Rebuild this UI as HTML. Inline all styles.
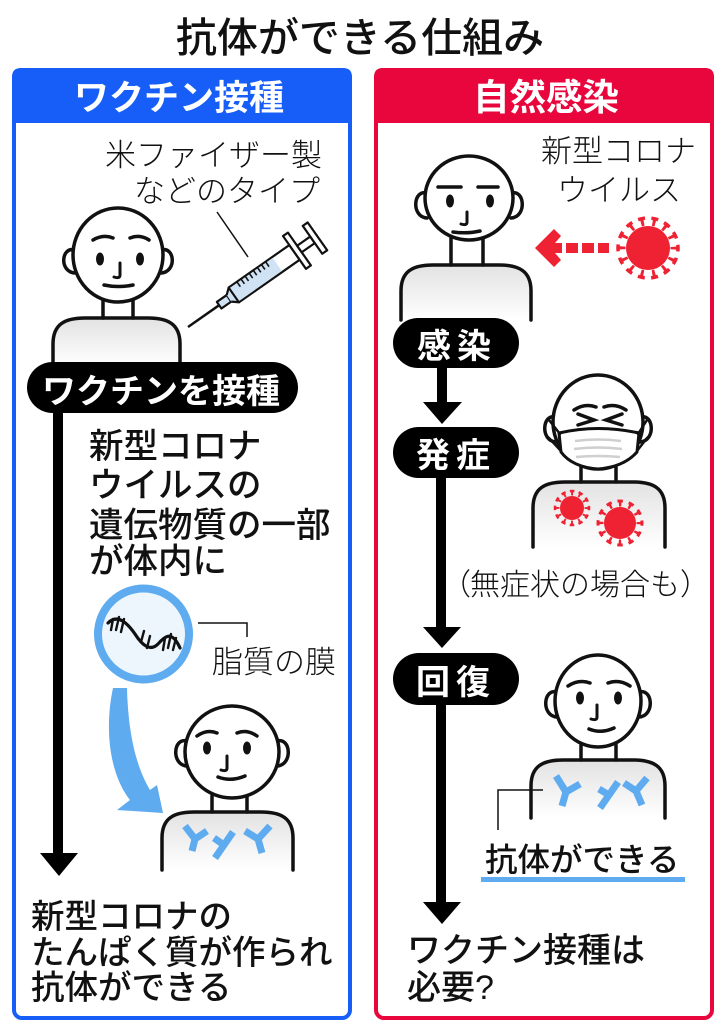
<!DOCTYPE html>
<html><head><meta charset="utf-8">
<style>
html,body{margin:0;padding:0;background:#fff;}
svg{display:block;}
text{font-family:"Liberation Sans","Noto Sans CJK JP",sans-serif;}
.th{font-weight:300;fill:#111;}
.bd{font-weight:700;fill:#fff;}
.md{font-weight:500;fill:#111;}
</style></head>
<body>
<svg width="726" height="1024" viewBox="0 0 726 1024" xmlns="http://www.w3.org/2000/svg">
<defs>
<linearGradient id="bg" x1="0" y1="0" x2="0" y2="1">
<stop offset="0" stop-color="#e2e2e2"/><stop offset="1" stop-color="#ffffff"/>
</linearGradient>
</defs>

<!-- Title -->
<text x="360" y="52" font-size="41" text-anchor="middle" class="md">抗体ができる仕組み</text>

<!-- Left panel -->
<rect x="14" y="70" width="336" height="948" rx="8" fill="none" stroke="#165ef7" stroke-width="4"/>
<path d="M12,123 L12,77 Q12,68 21,68 L343,68 Q352,68 352,77 L352,123 Z" fill="#165ef7"/>
<text x="179" y="110" font-size="35" text-anchor="middle" class="bd">ワクチン接種</text>

<!-- Right panel -->
<rect x="376" y="70" width="336" height="948" rx="8" fill="none" stroke="#e8063c" stroke-width="4"/>
<path d="M374,123 L374,77 Q374,68 383,68 L705,68 Q714,68 714,77 L714,123 Z" fill="#e8063c"/>
<text x="546" y="110" font-size="36.5" text-anchor="middle" class="bd">自然感染</text>

<!-- ===== LEFT PANEL CONTENT ===== -->
<text x="105" y="166" font-size="31" class="th">米ファイザー製</text>
<text x="134" y="202" font-size="31" class="th">などのタイプ</text>
<line x1="217" y1="212" x2="248" y2="257" stroke="#111" stroke-width="1.5"/>

<!-- Syringe -->
<g transform="translate(188,327) rotate(-35)" stroke="#111" stroke-width="2.2" stroke-linejoin="round">
  <line x1="0" y1="0" x2="40" y2="0" stroke-width="2.5"/>
  <rect x="38" y="-4" width="12" height="8" fill="#cfe3f5"/>
  <path d="M50,-4 L56,-9 L56,9 L50,4" fill="#cfe3f5"/>
  <rect x="56" y="-9" width="74" height="18" fill="#fff"/>
  <rect x="57" y="-8" width="52" height="16" fill="#cfe3f5" stroke="none"/>
  <g stroke-width="1.6">
    <line x1="66" y1="-9" x2="66" y2="-3"/><line x1="71" y1="-9" x2="71" y2="-3"/>
    <line x1="76" y1="-9" x2="76" y2="-3"/><line x1="81" y1="-9" x2="81" y2="-3"/>
    <line x1="86" y1="-9" x2="86" y2="-3"/><line x1="91" y1="-9" x2="91" y2="-3"/>
    <line x1="96" y1="-9" x2="96" y2="-3"/><line x1="101" y1="-9" x2="101" y2="-3"/>
  </g>
  <rect x="130" y="-20" width="6" height="40" fill="#fff"/>
  <rect x="136" y="-4" width="16" height="8" fill="#fff"/>
  <rect x="152" y="-17" width="6" height="34" fill="#fff"/>
</g>

<!-- Person 1 (left top) -->
<g stroke="#111" stroke-width="3.5" fill="none" stroke-linecap="round">
  <path d="M53,366 L53,344 C53,324 65,318 85,318 L148,318 C168,318 180,324 180,344 L180,366" fill="url(#bg)"/>
  <line x1="103" y1="300" x2="103" y2="318"/><line x1="133" y1="300" x2="133" y2="318"/>
  <path d="M75,250 C61,246 59,272 75,273"/>
  <path d="M161,250 C175,246 177,272 161,273"/>
  <ellipse cx="118" cy="255" rx="45" ry="47" fill="#fff"/>
  <path d="M93,240 Q103,234 113,238"/>
  <path d="M130,238 Q140,234 149,240"/>
  <path d="M120,263 L120,275 Q120,279 114,277" stroke-width="3"/>
  <path d="M104,285 Q118,288 133,285"/>
</g>
<ellipse cx="100" cy="259" rx="4" ry="6.5" fill="#111"/>
<ellipse cx="140" cy="259" rx="4" ry="6.5" fill="#111"/>

<!-- Pill ワクチンを接種 -->
<rect x="27" y="362" width="271" height="51" rx="25.5" fill="#000"/>
<text x="42" y="403" font-size="34" class="bd">ワクチンを接種</text>

<!-- Left long arrow -->
<rect x="53" y="410" width="10" height="445" fill="#000"/>
<polygon points="40,853 78,853 59,876" fill="#000"/>

<!-- Left body text -->
<text x="89" y="458" font-size="34.5" class="md">新型コロナ</text>
<text x="89" y="497" font-size="34.5" class="md">ウイルスの</text>
<text x="89" y="537" font-size="34.5" class="md">遺伝物質の一部</text>
<text x="89" y="573" font-size="34.5" class="md">が体内に</text>

<!-- Lipid circle -->
<circle cx="143.5" cy="634" r="45.5" fill="#eef6fd" stroke="#5eabf0" stroke-width="8"/>
<g stroke="#111" fill="none" stroke-linecap="round">
  <path d="M108,623 C118,613 128,624 135,634 C142,645 150,652 158,644 C165,636 172,630 180,648" stroke-width="3.2"/>
  <g stroke-width="2.4">
    <line x1="113" y1="619" x2="111" y2="630"/><line x1="119" y1="617" x2="116" y2="630"/>
    <line x1="124" y1="619" x2="121" y2="632"/><line x1="141" y1="642" x2="144" y2="631"/>
    <line x1="147" y1="648" x2="150" y2="636"/><line x1="165" y1="638" x2="163" y2="650"/>
    <line x1="171" y1="634" x2="168" y2="648"/><line x1="176" y1="638" x2="173" y2="650"/>
  </g>
</g>
<path d="M198,623 L247,623 L247,637" fill="none" stroke="#111" stroke-width="1.5"/>
<text x="212" y="673" font-size="31" class="th">脂質の膜</text>

<!-- Blue curved arrow -->
<path d="M113,688 L127,688 C128,730 135,765 150,790 L157,785 L163,813 L117,810 L130,800 C110,775 104,730 113,688 Z" fill="#5eabf0"/>

<!-- Person 2 (left bottom) -->
<g stroke="#111" stroke-width="3.5" fill="none" stroke-linecap="round">
  <path d="M162,870 L162,838 C162,818 174,812 194,812 L261,812 C281,812 293,818 293,838 L293,870" fill="url(#bg)"/>
  <line x1="212" y1="796" x2="212" y2="812"/><line x1="247" y1="796" x2="247" y2="812"/>
  <path d="M187,741 C173,737 171,765 187,766"/>
  <path d="M277,741 C291,737 293,765 277,766"/>
  <ellipse cx="232" cy="752" rx="47" ry="46" fill="#fff"/>
  <path d="M197,736 Q207,729 217,733"/>
  <path d="M237,733 Q247,729 257,736"/>
  <path d="M227,756 L227,768 Q227,772 221,770" stroke-width="3"/>
  <path d="M218,777 Q231,782 245,776"/>
</g>
<ellipse cx="207" cy="748" rx="4" ry="6.5" fill="#111"/>
<ellipse cx="247" cy="748" rx="4" ry="6.5" fill="#111"/>
<g stroke="#5eabf0" stroke-width="7" fill="none" stroke-linejoin="round">
  <path d="M185,826 L195,839 L207,831 M195,839 L192,851"/>
  <path d="M215,858 L233,832 M224,845 L214,838"/>
  <path d="M245,831 L258,839 L270,826 M258,839 L262,853"/>
</g>

<!-- Left bottom text -->
<text x="31" y="928" font-size="33.5" class="md">新型コロナの</text>
<text x="31" y="964" font-size="33.5" class="md">たんぱく質が作られ</text>
<text x="31" y="999" font-size="33.5" class="md">抗体ができる</text>

<!-- ===== RIGHT PANEL CONTENT ===== -->
<text x="541" y="162" font-size="31" class="th">新型コロナ</text>
<text x="557" y="201" font-size="31" class="th">ウイルス</text>

<!-- Person R1 -->
<g stroke="#111" stroke-width="3.5" fill="none" stroke-linecap="round">
  <path d="M401,320 L401,291 C401,271 413,265 433,265 L499,265 C519,265 531,271 531,291 L531,320" fill="url(#bg)"/>
  <line x1="451" y1="238" x2="451" y2="265"/><line x1="483" y1="238" x2="483" y2="265"/>
  <path d="M427,193 C413,189 411,217 427,218"/>
  <path d="M511,193 C525,189 527,217 511,218"/>
  <ellipse cx="469" cy="198" rx="44" ry="42" fill="#fff"/>
  <line x1="438" y1="187" x2="461" y2="187"/>
  <line x1="478" y1="187" x2="498" y2="187"/>
  <path d="M467,212 L467,222 Q467,226 461,224" stroke-width="3"/>
  <path d="M453,232 Q467,234 480,231"/>
</g>
<ellipse cx="450" cy="201" rx="4" ry="6.5" fill="#111"/>
<ellipse cx="490" cy="201" rx="4" ry="6.5" fill="#111"/>

<!-- Red dashed arrow -->
<polygon points="535,248 554,229 561,236 555,243 562,243 562,253 555,253 561,260 554,267" fill="#ee2233"/>
<rect x="566" y="243" width="12" height="10" fill="#ee2233"/>
<rect x="582" y="243" width="12" height="10" fill="#ee2233"/>
<rect x="598" y="243" width="11" height="10" fill="#ee2233"/>

<!-- Big virus -->
<circle cx="648" cy="248" r="22" fill="#ee2233"/>
<circle cx="648" cy="248" r="26" fill="none" stroke="#ee2233" stroke-width="7" stroke-dasharray="3 8.67" stroke-dashoffset="1.5"/>
<circle cx="648" cy="248" r="30" fill="none" stroke="#ee2233" stroke-width="3.5" stroke-dasharray="7 6.46" stroke-dashoffset="3.5"/>

<!-- Pills + arrows -->
<rect x="393" y="318" width="126" height="50" rx="25" fill="#000"/>
<text x="417" y="358" font-size="34" class="bd">感</text>
<text x="457" y="358" font-size="34" class="bd">染</text>
<rect x="437" y="366" width="10" height="38" fill="#000"/>
<polygon points="423,402 462,402 442,424" fill="#000"/>

<rect x="393" y="427" width="126" height="51" rx="25.5" fill="#000"/>
<text x="416" y="467" font-size="34" class="bd">発</text>
<text x="456" y="467" font-size="34" class="bd">症</text>
<rect x="436" y="476" width="10" height="153" fill="#000"/>
<polygon points="423,627 461,627 442,648" fill="#000"/>

<rect x="393" y="653" width="126" height="52" rx="26" fill="#000"/>
<text x="416" y="694" font-size="34" class="bd">回</text>
<text x="456" y="694" font-size="34" class="bd">復</text>
<rect x="436" y="703" width="10" height="201" fill="#000"/>
<polygon points="423,902 461,902 442,924" fill="#000"/>

<!-- Sick person -->
<g stroke="#111" stroke-width="3.5" fill="none" stroke-linecap="round">
  <path d="M533,547 L533,508 C533,488 545,482 565,482 L633,482 C653,482 665,488 665,508 L665,547" fill="url(#bg)"/>
  <line x1="581" y1="467" x2="581" y2="482"/><line x1="616" y1="467" x2="616" y2="482"/>
  <path d="M556,417 C542,413 540,441 556,442"/>
  <path d="M640,417 C654,413 656,441 640,442"/>
  <ellipse cx="598" cy="422" rx="45" ry="47" fill="#fff"/>
  <path d="M574,410 Q585,403 596,407"/>
  <path d="M604,407 Q615,403 626,410"/>
  <path d="M578,414 L594,420 L578,425"/>
  <path d="M622,414 L606,420 L622,425"/>
  <path d="M559,433 Q598,424 639,433 L637,452 Q624,467 598,469 Q572,467 561,452 Z" fill="#fff" stroke-width="3"/>
  <line x1="549" y1="420" x2="560" y2="434" stroke-width="2.5"/>
  <line x1="549" y1="438" x2="561" y2="451" stroke-width="2.5"/>
  <line x1="647" y1="420" x2="638" y2="434" stroke-width="2.5"/>
  <line x1="647" y1="438" x2="637" y2="451" stroke-width="2.5"/>
</g>
<g stroke="#cfcfcf" stroke-width="2.5" fill="none">
  <path d="M575,441 Q598,438 621,441"/>
  <path d="M574,449 Q598,446 622,449"/>
  <path d="M576,457 Q598,455 620,457"/>
</g>
<!-- viruses on body -->
<circle cx="572" cy="508" r="12" fill="#ee2233"/>
<circle cx="572" cy="508" r="14.5" fill="none" stroke="#ee2233" stroke-width="4" stroke-dasharray="2 5.59" stroke-dashoffset="1"/>
<circle cx="572" cy="508" r="17" fill="none" stroke="#ee2233" stroke-width="2.5" stroke-dasharray="4.5 4.4" stroke-dashoffset="2.25"/>
<circle cx="620" cy="523" r="16" fill="#ee2233"/>
<circle cx="620" cy="523" r="19" fill="none" stroke="#ee2233" stroke-width="5" stroke-dasharray="2.5 7.45" stroke-dashoffset="1.25"/>
<circle cx="620" cy="523" r="22" fill="none" stroke="#ee2233" stroke-width="3" stroke-dasharray="5.5 6.02" stroke-dashoffset="2.75"/>

<text y="595" font-size="30" class="th"><tspan x="441">（</tspan><tspan x="470">無症状の場合も</tspan><tspan x="680">）</tspan></text>

<!-- Recovered person -->
<g stroke="#111" stroke-width="3.5" fill="none" stroke-linecap="round">
  <path d="M531,818 L531,786 C531,766 543,760 563,760 L633,760 C653,760 665,766 665,786 L665,818" fill="url(#bg)"/>
  <line x1="581" y1="745" x2="581" y2="760"/><line x1="616" y1="745" x2="616" y2="760"/>
  <path d="M557,692 C543,688 541,716 557,717"/>
  <path d="M639,692 C653,688 655,716 639,717"/>
  <ellipse cx="598" cy="701" rx="43" ry="46" fill="#fff"/>
  <path d="M568,686 Q579,679 590,683"/>
  <path d="M608,683 Q619,679 630,686"/>
  <path d="M597,705 L597,717 Q597,721 591,719" stroke-width="3"/>
  <path d="M589,729 Q601,734 614,728"/>
</g>
<ellipse cx="580" cy="698" rx="4" ry="6.5" fill="#111"/>
<ellipse cx="618" cy="698" rx="4" ry="6.5" fill="#111"/>
<g stroke="#5eabf0" stroke-width="7" fill="none" stroke-linejoin="round">
  <path d="M556,776 L566,792 L580,784 M566,792 L562,806"/>
  <path d="M600,808 L618,782 M609,795 L599,789"/>
  <path d="M624,783 L636,791 L647,778 M636,791 L642,805"/>
</g>
<path d="M498,830 L498,790 L543,790" fill="none" stroke="#111" stroke-width="1.5"/>
<text x="485" y="871" font-size="32.5" class="md">抗体ができる</text>
<rect x="481" y="877" width="204" height="5" fill="#5eabf0"/>

<!-- Right bottom text -->
<text x="407" y="962" font-size="34" class="md">ワクチン接種は</text>
<text x="407" y="999" font-size="34" class="md">必要?</text>
</svg>
</body></html>
